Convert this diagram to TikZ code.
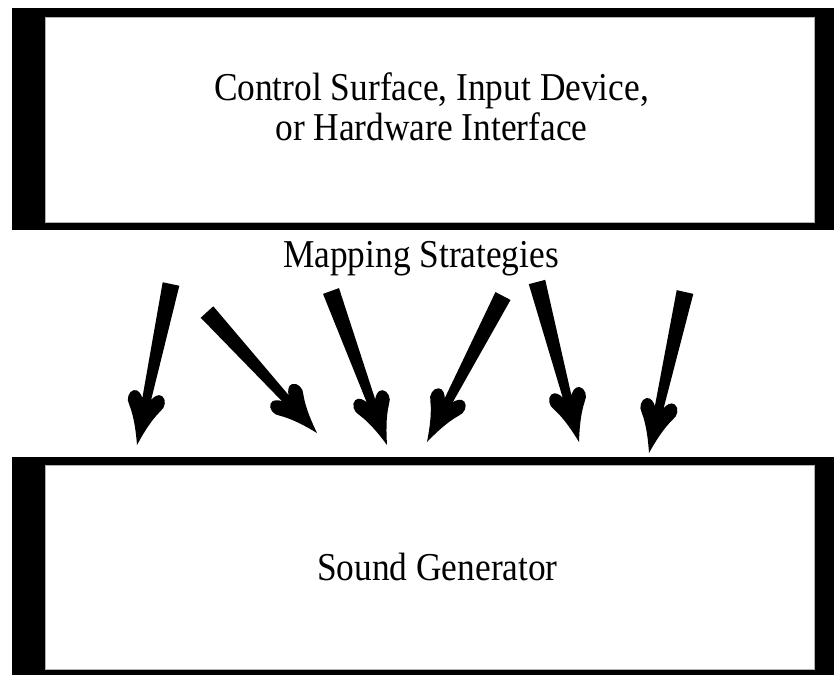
\documentclass[tikz,border=0pt]{standalone}
\usepackage{fontspec}
\setmainfont{Liberation Serif}[FakeStretch=0.895]
\usepackage{tikz}
\usetikzlibrary{calc}

\tikzset{
  panelshade/.style={fill=black, draw=none},
  panelface/.style={fill=white, draw=gray!60, line width=0.8pt, inner sep=0pt},
  caption/.style={font=\fontsize{39.5}{40}\selectfont, inner sep=0pt, align=center}
}

% tapered arrow with a heart shaped head, from tail #1 to tip #2
\newcommand\heartarrow[2]{%
  \path let \p1=($(#2)-(#1)$) in
    \pgfextra{\pgfmathsetmacro\harot{atan2(\y1,\x1)}%
      \pgfmathsetmacro\halen{veclen(\x1,\y1)}%
      \global\let\harot\harot \global\let\halen\halen};
  \fill[shift={(#1)}, rotate=\harot]
    (0,8.5) -- (\halen-47,4.5)
    .. controls (\halen-50,6) and (\halen-55,10) .. (\halen-53,14.5)
    .. controls (\halen-51,19.5) and (\halen-42,20) .. (\halen-38,16)
    .. controls (\halen-26,8) and (\halen-10,3) .. (\halen,0)
    .. controls (\halen-10,-3) and (\halen-26,-8) .. (\halen-38,-16)
    .. controls (\halen-42,-20) and (\halen-51,-19.5) .. (\halen-53,-14.5)
    .. controls (\halen-55,-10) and (\halen-50,-6) .. (\halen-47,-4.5)
    -- (0,-8.5) -- cycle;
}

\begin{document}
\begin{tikzpicture}[x=1pt, y=1pt]
  \useasboundingbox (0,0) rectangle (834,-675);

  % upper panel
  \fill[panelshade] (12,-8) rectangle (834,-230);
  \node[panelface, minimum width=769pt, minimum height=205pt] (ctrl) at (429.5,-119.5) {};
  \node[caption] (ctrltext) at (431.5,-107) {Control Surface, Input Device,\\or Hardware Interface};

  % lower panel
  \fill[panelshade] (12,-457) rectangle (834,-675);
  \node[panelface, minimum width=769pt, minimum height=204pt] (gen) at (429.5,-567) {};
  \node[caption, anchor=base] (gentext) at (437.5,-580) {Sound Generator};

  \node[caption, anchor=base] (mapping) at (421,-267) {Mapping Strategies};

  % mapping arrows
  \foreach \i/\tx/\ty/\hx/\hy in {1/171/284/137/445, 2/207/312/317/433, 3/331/291/387/445,
                                  4/503/296/427/442, 5/537/282/579/442, 6/685/292/649/453} {
    \coordinate (t\i) at (\tx,-\ty);
    \coordinate (h\i) at (\hx,-\hy);
    \heartarrow{t\i}{h\i}
  }
\end{tikzpicture}
\end{document}
